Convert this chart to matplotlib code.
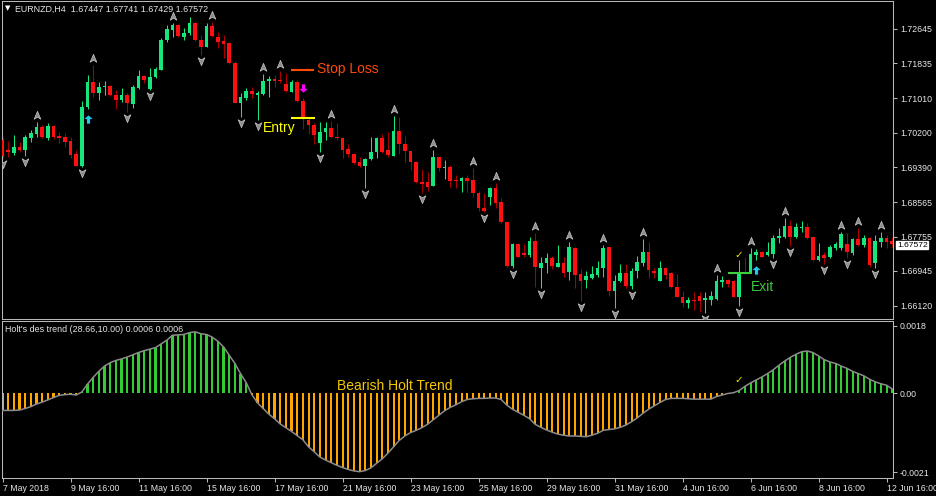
import matplotlib
matplotlib.use("Agg")
import matplotlib.pyplot as plt
import numpy as np
from matplotlib.path import Path
from matplotlib.transforms import offset_copy, blended_transform_factory

plt.rcParams['font.family'] = ['Liberation Sans', 'DejaVu Sans']

# ---------------- data ----------------
symbol_title = "EURNZD,H4  1.67447 1.67741 1.67429 1.67572"
indicator_title = "Holt's des trend (28.66,10.00) 0.0006 0.0006"
last_price = 1.67572

opens = [
    1.7003, 1.6979, 1.6972, 1.6987, 1.6979, 1.7008, 1.7017, 1.7034, 1.7008, 1.7036,
    1.7012, 1.7010, 1.7001, 1.6970, 1.6942, 1.7081, 1.7140, 1.7114, 1.7127, 1.7130,
    1.7109, 1.7097, 1.7109, 1.7088, 1.7126, 1.7154, 1.7123, 1.7151, 1.7168, 1.7239,
    1.7262, 1.7274, 1.7246, 1.7255, 1.7279, 1.7239, 1.7223, 1.7272, 1.7246, 1.7236,
    1.7232, 1.7184, 1.7090, 1.7102, 1.7118, 1.7110, 1.7111, 1.7142, 1.7147, 1.7144,
    1.7135, 1.7117, 1.7140, 1.7095, 1.7050, 1.7038, 1.6996, 1.7022, 1.7031, 1.7010,
    1.7008, 1.6982, 1.6970, 1.6951, 1.6942, 1.6958, 1.6975, 1.7008, 1.6979, 1.6966,
    1.7024, 1.6994, 1.6977, 1.6951, 1.6904, 1.6904, 1.6895, 1.6963, 1.6937, 1.6939,
    1.6909, 1.6906, 1.6913, 1.6909, 1.6878, 1.6843, 1.6869, 1.6890, 1.6857, 1.6810,
    1.6706, 1.6758, 1.6737, 1.6732, 1.6765, 1.6701, 1.6713, 1.6725, 1.6704, 1.6713,
    1.6692, 1.6749, 1.6687, 1.6673, 1.6678, 1.6685, 1.6701, 1.6751, 1.6647, 1.6671,
    1.6690, 1.6659, 1.6694, 1.6713, 1.6739, 1.6694, 1.6671, 1.6701, 1.6690, 1.6657,
    1.6633, 1.6619, 1.6626, 1.6635, 1.6626, 1.6626, 1.6628, 1.6668, 1.6673, 1.6671,
    1.6634, 1.6692, 1.6692, 1.6732, 1.6739, 1.6731, 1.6734, 1.6772, 1.6775, 1.6800,
    1.6775, 1.6796, 1.6799, 1.6774, 1.6720, 1.6732, 1.6728, 1.6749, 1.6748, 1.6757,
    1.6737, 1.6770, 1.6756, 1.6773, 1.6713, 1.6763, 1.6773, 1.6764]

highs = [
    1.7010, 1.7001, 1.7015, 1.6998, 1.7015, 1.7027, 1.7045, 1.7038, 1.7043, 1.7038,
    1.7022, 1.7020, 1.7010, 1.6979, 1.7095, 1.7156, 1.7180, 1.7140, 1.7142, 1.7133,
    1.7121, 1.7126, 1.7114, 1.7133, 1.7168, 1.7156, 1.7173, 1.7175, 1.7243, 1.7274,
    1.7279, 1.7276, 1.7267, 1.7293, 1.7282, 1.7250, 1.7278, 1.7281, 1.7257, 1.7250,
    1.7234, 1.7189, 1.7114, 1.7125, 1.7128, 1.7118, 1.7158, 1.7153, 1.7156, 1.7166,
    1.7161, 1.7144, 1.7144, 1.7102, 1.7057, 1.7043, 1.7045, 1.7045, 1.7048, 1.7043,
    1.7009, 1.6994, 1.6972, 1.6963, 1.6961, 1.7010, 1.7010, 1.7017, 1.7022, 1.7060,
    1.7057, 1.7012, 1.6979, 1.6954, 1.6935, 1.6928, 1.6979, 1.6964, 1.6956, 1.6944,
    1.6921, 1.6916, 1.6921, 1.6937, 1.6883, 1.6878, 1.6892, 1.6902, 1.6866, 1.6812,
    1.6760, 1.6760, 1.6758, 1.6774, 1.6784, 1.6727, 1.6737, 1.6730, 1.6756, 1.6727,
    1.6763, 1.6750, 1.6699, 1.6694, 1.6706, 1.6718, 1.6756, 1.6752, 1.6685, 1.6711,
    1.6711, 1.6701, 1.6730, 1.6770, 1.6763, 1.6701, 1.6718, 1.6704, 1.6692, 1.6687,
    1.6647, 1.6633, 1.6645, 1.6645, 1.6645, 1.6647, 1.6685, 1.6682, 1.6675, 1.6673,
    1.6720, 1.6727, 1.6749, 1.6745, 1.6742, 1.6763, 1.6779, 1.6796, 1.6819, 1.6815,
    1.6807, 1.6811, 1.6807, 1.6777, 1.6760, 1.6739, 1.6756, 1.6763, 1.6787, 1.6784,
    1.6773, 1.6796, 1.6778, 1.6775, 1.6778, 1.6787, 1.6778, 1.6775]

lows = [
    1.6961, 1.6963, 1.6968, 1.6975, 1.6965, 1.6998, 1.7010, 1.7008, 1.7003, 1.7005,
    1.6996, 1.6987, 1.6961, 1.6941, 1.6939, 1.7076, 1.7104, 1.7097, 1.7109, 1.7107,
    1.7076, 1.7092, 1.7069, 1.7078, 1.7124, 1.7137, 1.7121, 1.7149, 1.7167, 1.7234,
    1.7246, 1.7246, 1.7239, 1.7250, 1.7236, 1.7203, 1.7222, 1.7246, 1.7220, 1.7196,
    1.7182, 1.7090, 1.7057, 1.7097, 1.7102, 1.7050, 1.7109, 1.7104, 1.7128, 1.7137,
    1.7116, 1.7116, 1.7092, 1.7029, 1.7017, 1.6994, 1.6975, 1.7003, 1.7008, 1.7003,
    1.6961, 1.6963, 1.6946, 1.6939, 1.6890, 1.6956, 1.6961, 1.6972, 1.6963, 1.6965,
    1.6970, 1.6951, 1.6932, 1.6902, 1.6878, 1.6883, 1.6894, 1.6930, 1.6911, 1.6892,
    1.6890, 1.6880, 1.6880, 1.6869, 1.6836, 1.6833, 1.6850, 1.6843, 1.6807, 1.6704,
    1.6701, 1.6727, 1.6727, 1.6727, 1.6657, 1.6654, 1.6690, 1.6699, 1.6703, 1.6680,
    1.6673, 1.6654, 1.6624, 1.6654, 1.6676, 1.6680, 1.6680, 1.6635, 1.6607, 1.6668,
    1.6654, 1.6653, 1.6678, 1.6706, 1.6678, 1.6678, 1.6670, 1.6676, 1.6654, 1.6632,
    1.6610, 1.6607, 1.6602, 1.6598, 1.6595, 1.6614, 1.6626, 1.6657, 1.6657, 1.6633,
    1.6612, 1.6687, 1.6690, 1.6720, 1.6727, 1.6729, 1.6725, 1.6760, 1.6772, 1.6753,
    1.6772, 1.6786, 1.6770, 1.6718, 1.6718, 1.6711, 1.6726, 1.6744, 1.6744, 1.6725,
    1.6732, 1.6754, 1.6752, 1.6704, 1.6702, 1.6752, 1.6749, 1.6751]

closes = [
    1.6965, 1.6975, 1.6987, 1.6979, 1.7010, 1.7020, 1.7034, 1.7009, 1.7036, 1.7010,
    1.7008, 1.6998, 1.6968, 1.6942, 1.7081, 1.7140, 1.7114, 1.7128, 1.7130, 1.7108,
    1.7097, 1.7109, 1.7090, 1.7128, 1.7154, 1.7144, 1.7151, 1.7170, 1.7239, 1.7265,
    1.7274, 1.7248, 1.7256, 1.7279, 1.7239, 1.7223, 1.7272, 1.7248, 1.7234, 1.7229,
    1.7184, 1.7091, 1.7104, 1.7118, 1.7111, 1.7113, 1.7142, 1.7147, 1.7142, 1.7142,
    1.7118, 1.7140, 1.7095, 1.7055, 1.7038, 1.7015, 1.7022, 1.7031, 1.7010, 1.7008,
    1.6979, 1.6970, 1.6949, 1.6942, 1.6958, 1.6975, 1.7008, 1.6975, 1.6968, 1.7024,
    1.6994, 1.6977, 1.6951, 1.6904, 1.6899, 1.6892, 1.6963, 1.6937, 1.6939, 1.6906,
    1.6906, 1.6913, 1.6906, 1.6878, 1.6843, 1.6836, 1.6890, 1.6855, 1.6810, 1.6706,
    1.6758, 1.6728, 1.6732, 1.6765, 1.6704, 1.6713, 1.6725, 1.6706, 1.6713, 1.6690,
    1.6751, 1.6685, 1.6671, 1.6683, 1.6687, 1.6701, 1.6749, 1.6647, 1.6671, 1.6690,
    1.6659, 1.6694, 1.6716, 1.6739, 1.6697, 1.6690, 1.6701, 1.6685, 1.6657, 1.6633,
    1.6619, 1.6626, 1.6624, 1.6624, 1.6631, 1.6635, 1.6671, 1.6673, 1.6664, 1.6634,
    1.6689, 1.6690, 1.6734, 1.6739, 1.6727, 1.6739, 1.6772, 1.6777, 1.6801, 1.6775,
    1.6799, 1.6799, 1.6772, 1.6720, 1.6730, 1.6726, 1.6752, 1.6757, 1.6781, 1.6738,
    1.6770, 1.6756, 1.6773, 1.6708, 1.6764, 1.6773, 1.6762, 1.6757]

holt_trend = [
    -0.00045, -0.00045, -0.00045, -0.00044, -0.00040, -0.00035, -0.00028, -0.00023, -0.00017, -0.00011,
    -0.00005, -0.00003, -0.00002, -0.00004, 0.00004, 0.00025, 0.00043, 0.00059, 0.00073, 0.00082,
    0.00088, 0.00092, 0.00097, 0.00103, 0.00109, 0.00114, 0.00118, 0.00122, 0.00132, 0.00142,
    0.00155, 0.00156, 0.00157, 0.00162, 0.00164, 0.00159, 0.00157, 0.00150, 0.00139, 0.00124,
    0.00102, 0.00080, 0.00053, 0.00029, -0.00003, -0.00025, -0.00040, -0.00055, -0.00067, -0.00081,
    -0.00091, -0.00101, -0.00112, -0.00123, -0.00142, -0.00155, -0.00169, -0.00177, -0.00184, -0.00191,
    -0.00197, -0.00202, -0.00206, -0.00208, -0.00205, -0.00198, -0.00186, -0.00174, -0.00159, -0.00142,
    -0.00125, -0.00113, -0.00104, -0.00098, -0.00091, -0.00082, -0.00070, -0.00058, -0.00046, -0.00037,
    -0.00030, -0.00022, -0.00016, -0.00014, -0.00013, -0.00013, -0.00012, -0.00012, -0.00016, -0.00031,
    -0.00042, -0.00050, -0.00058, -0.00067, -0.00082, -0.00090, -0.00097, -0.00103, -0.00108, -0.00111,
    -0.00113, -0.00113, -0.00114, -0.00115, -0.00111, -0.00106, -0.00098, -0.00096, -0.00094, -0.00090,
    -0.00084, -0.00075, -0.00065, -0.00053, -0.00042, -0.00033, -0.00024, -0.00016, -0.00013, -0.00013,
    -0.00013, -0.00014, -0.00015, -0.00015, -0.00015, -0.00015, -0.00008, -0.00004, 0.00000, 0.00002,
    0.00008, 0.00019, 0.00028, 0.00036, 0.00044, 0.00053, 0.00063, 0.00075, 0.00086, 0.00096,
    0.00104, 0.00111, 0.00113, 0.00109, 0.00100, 0.00090, 0.00084, 0.00080, 0.00073, 0.00067,
    0.00059, 0.00053, 0.00047, 0.00038, 0.00031, 0.00026, 0.00022, 0.00012]

up_fractals = [6, 16, 30, 37, 46, 49, 58, 69, 76, 83, 87, 94, 100, 106, 113, 126, 132, 138, 148, 151, 155]
down_fractals = [0, 4, 14, 22, 26, 35, 42, 45, 56, 64, 74, 85, 90, 95, 102, 108, 111, 124, 130, 136, 139, 145, 149, 154]
buy_signals = [15, 133]
sell_signals = [53]
check_bar = 130

stop_loss_price = 1.7168
entry_price = 1.7054
exit_price = 1.6690
sl_span = (50.9, 55.0)
entry_span = (50.9, 55.1)
exit_span = (128.0, 132.3)

price_ticks = [1.72645, 1.71835, 1.71010, 1.70200, 1.69390, 1.68565, 1.67755, 1.66945, 1.66120]
price_tick_labels = ["1.72645", "1.71835", "1.71010", "1.70200", "1.69390", "1.68565",
                     "1.67755", "1.66945", "1.66120"]
ind_ticks = [0.0018, 0.0, -0.0021]
ind_tick_labels = ["0.0018", "0.00", "-0.0021"]
time_tick_bars = [0, 12, 24, 36, 48, 60, 72, 84, 96, 108, 120, 132, 144, 156]
time_tick_labels = ["7 May 2018", "9 May 16:00", "11 May 16:00", "15 May 16:00", "17 May 16:00",
                    "21 May 16:00", "23 May 16:00", "25 May 16:00", "29 May 16:00", "31 May 16:00",
                    "4 Jun 16:00", "6 Jun 16:00", "8 Jun 16:00", "12 Jun 16:00"]

# ---------------- figure ----------------
W, H = 936, 496
fig = plt.figure(figsize=(W / 100, H / 100), dpi=100, facecolor='black')


def add_px_axes(left, top, right, bottom):
    return fig.add_axes([left / W, 1 - bottom / H, (right - left) / W, (bottom - top) / H],
                        facecolor='black')


ax = add_px_axes(2, 1, 893, 318.5)
ax2 = add_px_axes(2, 320.5, 893, 478)

SPINE = '#B8B8B8'
LABEL = '#E6E6E6'
FS = 6.3

o = np.array(opens)
c = np.array(closes)
h = np.maximum.reduce([np.array(highs), o, c])
l = np.minimum.reduce([np.array(lows), o, c])
x = np.arange(len(o))
bull = c >= o

BULL = '#17E57E'
BEAR = '#FF1010'
ax.vlines(x[bull], l[bull], h[bull], color=BULL, lw=0.75, zorder=2)
ax.vlines(x[~bull], l[~bull], h[~bull], color='#A80000', lw=0.75, zorder=2)
body = np.maximum(np.abs(c - o), 0.00022)
ax.bar(x, body, bottom=np.minimum(o, c), width=0.62,
       color=np.where(bull, BULL, BEAR), linewidth=0, zorder=3)

# fractal arrows
up_marker = Path([(0, 1), (0.8, -0.9), (0, -0.4), (-0.8, -0.9), (0, 1)],
                 [Path.MOVETO, Path.LINETO, Path.LINETO, Path.LINETO, Path.CLOSEPOLY])
dn_marker = Path([(0, -1), (0.8, 0.9), (0, 0.4), (-0.8, 0.9), (0, -1)],
                 [Path.MOVETO, Path.LINETO, Path.LINETO, Path.LINETO, Path.CLOSEPOLY])
up_tr = offset_copy(ax.transData, fig=fig, x=0, y=7, units='dots')
dn_tr = offset_copy(ax.transData, fig=fig, x=0, y=-6, units='dots')
ax.plot(up_fractals, h[up_fractals], ls='none', marker=up_marker, ms=6,
        mfc='#8C8C8C', mec='#C8C8C8', mew=0.5, transform=up_tr, zorder=4)
ax.plot(down_fractals, l[down_fractals], ls='none', marker=dn_marker, ms=6,
        mfc='#8C8C8C', mec='#C8C8C8', mew=0.5, transform=dn_tr, zorder=4)

# signal arrows
arrow_up = Path([(0, 1), (1, 0.1), (0.38, 0.1), (0.38, -1), (-0.38, -1), (-0.38, 0.1), (-1, 0.1), (0, 1)],
                [Path.MOVETO] + [Path.LINETO] * 6 + [Path.CLOSEPOLY])
arrow_dn = Path([(0, -1), (1, -0.1), (0.38, -0.1), (0.38, 1), (-0.38, 1), (-0.38, -0.1), (-1, -0.1), (0, -1)],
                [Path.MOVETO] + [Path.LINETO] * 6 + [Path.CLOSEPOLY])
ax.plot(buy_signals, l[buy_signals], ls='none', marker=arrow_up, ms=6, color='#22C8F0',
        mew=0, transform=offset_copy(ax.transData, fig=fig, x=0, y=-10, units='dots'), zorder=5)
ax.plot(sell_signals, h[sell_signals], ls='none', marker=arrow_dn, ms=6, color='#FF00FF',
        mew=0, transform=offset_copy(ax.transData, fig=fig, x=0, y=10, units='dots'), zorder=5)

# check mark
ax.annotate('\u2713', xy=(check_bar, h[check_bar]), xytext=(0, 5), textcoords='offset pixels',
            ha='center', va='center', fontsize=7.5, color='#EEEE00', family=['DejaVu Sans'], zorder=6)

# trade levels
ax.plot(sl_span, [stop_loss_price] * 2, color='#FF4A0A', lw=1.5, zorder=6, solid_capstyle='butt')
ax.plot(entry_span, [entry_price] * 2, color='#FFFF00', lw=1.5, zorder=6, solid_capstyle='butt')
ax.plot(exit_span, [exit_price] * 2, color='#3CD23C', lw=1.5, zorder=6, solid_capstyle='butt')
ax.annotate('Stop Loss', xy=(55.5, stop_loss_price), xytext=(0, 1), textcoords='offset pixels',
            ha='left', va='center', fontsize=10, color='#FF4A0A', zorder=6)
ax.annotate('Entry', xy=(45.97, entry_price), xytext=(0, -10), textcoords='offset pixels',
            ha='left', va='center', fontsize=10, color='#FFFF00', zorder=6)
ax.annotate('Exit', xy=(132.0, exit_price), xytext=(0, -14), textcoords='offset pixels',
            ha='left', va='center', fontsize=10, color='#3CC83C', zorder=6)

# axes formatting main
ax.set_xlim(-0.09, 157.14)
ax.set_ylim(1.65824, 1.73304)
ax.set_xticks([])
ax.yaxis.tick_right()
ax.set_yticks(price_ticks)
ax.set_yticklabels(price_tick_labels)
ax.tick_params(axis='y', direction='out', length=3, width=0.75, color=SPINE,
               labelcolor=LABEL, labelsize=FS, pad=2)
for sp in ax.spines.values():
    sp.set_color(SPINE)
    sp.set_linewidth(0.75)

# current price tag
ax.annotate(f"{last_price:.5f}", xy=(1.0, last_price),
            xycoords=blended_transform_factory(ax.transAxes, ax.transData),
            xytext=(4, -1), textcoords='offset pixels', ha='left', va='center',
            fontsize=6.1, color='black', annotation_clip=False,
            bbox=dict(boxstyle='square,pad=0.06', fc='white', ec='white'))

# ---------------- indicator ----------------
hv = np.array(holt_trend)
ax2.bar(x, hv, width=0.36, color=np.where(hv > 0, '#32CD32', '#FFA500'), linewidth=0, zorder=2)
ax2.plot(x, hv, color='#8C8C8C', lw=1.1, zorder=3)
ax2.annotate('\u2713', xy=(check_bar, hv[check_bar]), xytext=(0, 10), textcoords='offset pixels',
             ha='center', va='center', fontsize=7.5, color='#EEEE00', family=['DejaVu Sans'], zorder=6)
ax2.text(59.0, 0.00021, 'Bearish Holt Trend', ha='left', va='center', fontsize=10,
         color='#F5C800', zorder=6)

ax2.set_xlim(-0.09, 157.14)
ax2.set_ylim(-0.002248, 0.001942)
ax2.yaxis.tick_right()
ax2.set_yticks(ind_ticks)
ax2.set_yticklabels(ind_tick_labels)
ax2.tick_params(axis='y', direction='out', length=3, width=0.75, color=SPINE,
                labelcolor=LABEL, labelsize=FS, pad=2)
ax2.set_xticks(time_tick_bars)
ax2.set_xticklabels(time_tick_labels)
for lab in ax2.get_xticklabels():
    lab.set_ha('left')
ax2.tick_params(axis='x', direction='out', length=3, width=0.75, color=SPINE,
                labelcolor=LABEL, labelsize=FS, pad=1.5)
for sp in ax2.spines.values():
    sp.set_color(SPINE)
    sp.set_linewidth(0.75)

# titles
fig.text(5 / W, 1 - 8.5 / H, '\u25BC', fontsize=5, color='white', ha='left', va='center',
         family=['DejaVu Sans'])
fig.text(15 / W, 1 - 9 / H, symbol_title, fontsize=6.4, color=LABEL, ha='left', va='center')
fig.text(5 / W, 1 - 329 / H, indicator_title, fontsize=6.4, color=LABEL, ha='left', va='center')

fig.savefig('out.png', dpi=100, facecolor='black')
